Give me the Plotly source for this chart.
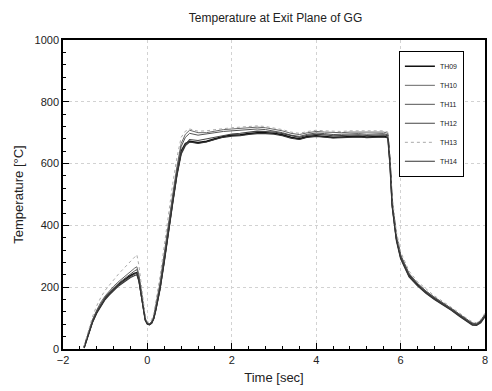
import plotly.graph_objects as go

time_s = [-1.5, -1.4, -1.3, -1.2, -1.1, -1.0, -0.9, -0.8, -0.7, -0.6, -0.5, -0.4, -0.3, -0.25,
          -0.2, -0.15, -0.1, -0.05, 0.0, 0.05, 0.1, 0.15, 0.2, 0.3, 0.4, 0.5, 0.6, 0.7, 0.8, 0.9,
          1.0, 1.2, 1.4, 1.6, 1.8, 2.0, 2.2, 2.4, 2.6, 2.8, 3.0, 3.2, 3.4, 3.6, 3.8, 4.0, 4.2,
          4.4, 4.6, 4.8, 5.0, 5.2, 5.4, 5.6, 5.7, 5.75, 5.8, 5.9, 6.0, 6.2, 6.4, 6.6, 6.8, 7.0,
          7.2, 7.4, 7.6, 7.7, 7.8, 7.9, 8.0]

th09 = [5, 50, 90, 120, 145, 165, 180, 195, 207, 218, 228, 238, 245, 247,
        225, 180, 130, 95, 82, 80, 85, 100, 130, 200, 290, 390, 480, 570, 640, 665,
        672, 668, 672, 680, 688, 692, 693, 697, 700, 700, 698, 693, 685, 680, 688, 690, 688,
        685, 686, 688, 688, 686, 686, 688, 685, 600, 470, 360, 300, 240, 210, 185, 165, 148,
        130, 110, 90, 82, 80, 90, 110]
th10 = [8, 55, 95, 126, 152, 172, 188, 203, 216, 228, 240, 251, 262, 266,
        240, 190, 135, 98, 84, 82, 88, 106, 140, 215, 310, 410, 500, 590, 665, 695,
        708, 700, 700, 705, 710, 712, 714, 716, 718, 716, 712, 706, 698, 694, 700, 704, 702,
        700, 700, 702, 702, 700, 700, 702, 698, 610, 480, 370, 305, 245, 212, 188, 168, 150,
        132, 112, 92, 84, 82, 92, 112]
th11 = [6, 52, 92, 123, 148, 168, 184, 199, 211, 222, 233, 244, 253, 257,
        232, 185, 132, 96, 83, 81, 86, 103, 135, 208, 300, 400, 490, 580, 655, 685,
        698, 692, 695, 700, 704, 706, 708, 710, 712, 710, 706, 700, 692, 688, 695, 699, 697,
        694, 695, 697, 697, 695, 695, 697, 693, 605, 475, 365, 302, 242, 211, 186, 166, 149,
        131, 111, 91, 83, 81, 91, 111]
th12 = [4, 48, 88, 118, 143, 163, 178, 193, 205, 216, 226, 236, 243, 245,
        222, 178, 128, 94, 81, 79, 84, 99, 128, 196, 285, 385, 475, 565, 635, 662,
        678, 675, 680, 686, 692, 696, 698, 702, 705, 704, 702, 697, 690, 685, 692, 695, 693,
        690, 691, 693, 693, 691, 691, 693, 690, 598, 465, 355, 295, 236, 206, 182, 162, 145,
        127, 107, 87, 79, 78, 87, 106]
th13 = [10, 62, 105, 140, 168, 190, 208, 225, 240, 255, 270, 285, 300, 305,
        270, 210, 145, 104, 88, 86, 94, 115, 155, 235, 335, 440, 535, 620, 685, 705,
        712, 705, 706, 710, 714, 716, 718, 720, 722, 720, 716, 710, 702, 698, 704, 708, 706,
        704, 704, 706, 706, 704, 704, 706, 702, 620, 495, 380, 315, 252, 218, 194, 172, 154,
        136, 116, 96, 88, 85, 96, 116]
th14 = [3, 46, 86, 116, 140, 160, 175, 190, 202, 212, 222, 231, 238, 240,
        218, 175, 126, 93, 80, 78, 83, 97, 125, 192, 280, 380, 470, 560, 630, 658,
        670, 665, 670, 678, 685, 689, 690, 694, 697, 697, 695, 690, 682, 678, 685, 688, 686,
        683, 684, 686, 686, 684, 684, 686, 683, 595, 460, 350, 292, 233, 204, 180, 160, 143,
        125, 105, 85, 77, 76, 85, 104]

series = [
    ("TH09", th09, dict(color="#111111", width=1.6)),
    ("TH10", th10, dict(color="#666666", width=1)),
    ("TH11", th11, dict(color="#555555", width=1)),
    ("TH12", th12, dict(color="#444444", width=1.1)),
    ("TH13", th13, dict(color="#aaaaaa", width=1, dash="dot")),
    ("TH14", th14, dict(color="#333333", width=1.1)),
]

fig = go.Figure()
for name, vals, line in series:
    fig.add_trace(go.Scatter(x=time_s, y=vals, mode="lines", name=name, line=line))

axis_common = dict(
    showline=True, linecolor="black", linewidth=1.5, mirror=True,
    ticks="inside", ticklen=6, tickcolor="black", tickwidth=1.2,
    showgrid=True, gridcolor="#d2d2d2", griddash="dot", gridwidth=1,
    zeroline=False, tickfont=dict(size=11, color="#222222"),
)

fig.update_layout(
    width=492, height=391,
    margin=dict(l=63, r=4, t=40, b=42),
    paper_bgcolor="white", plot_bgcolor="white",
    font=dict(family="Liberation Sans, Arial, sans-serif", color="#222222"),
    title=dict(text="Temperature at Exit Plane of GG", x=0.56, xanchor="center",
               y=0.955, yanchor="middle", font=dict(size=12)),
    xaxis=dict(range=[-2, 8], dtick=2, tick0=0,
               minor=dict(dtick=0.4, ticks="inside", ticklen=3, tickcolor="black", showgrid=False),
               title=dict(text="Time [sec]", font=dict(size=13), standoff=8),
               **axis_common),
    yaxis=dict(range=[0, 1000], dtick=200, tick0=0,
               minor=dict(dtick=40, ticks="inside", ticklen=3, tickcolor="black", showgrid=False),
               title=dict(text="Temperature [°C]", font=dict(size=13), standoff=8),
               **axis_common),
    legend=dict(x=0.95, y=0.965, xanchor="right", yanchor="top",
                bgcolor="white", bordercolor="black", borderwidth=1,
                font=dict(size=7), itemwidth=30, tracegroupgap=0),
    showlegend=True,
)

fig.write_html("out.html")
